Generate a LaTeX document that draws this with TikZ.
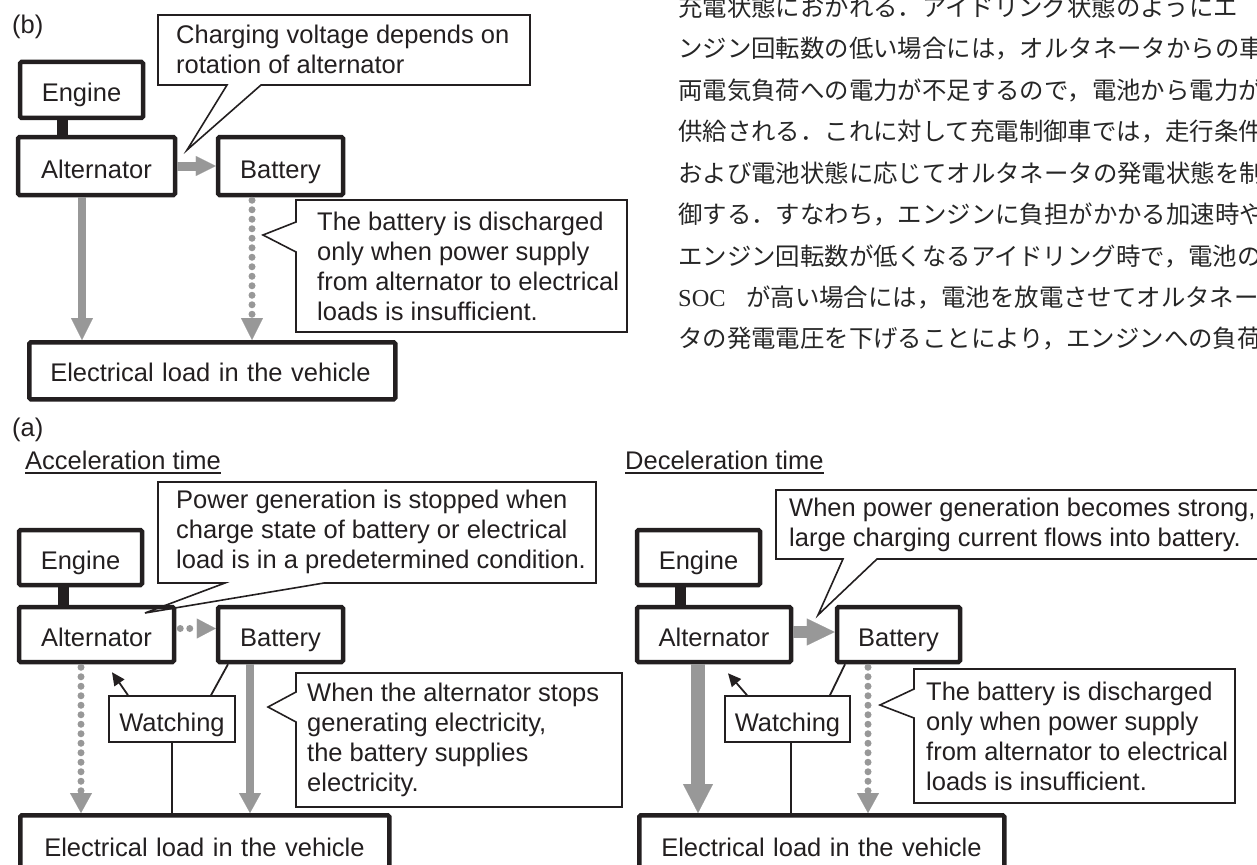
\documentclass[tikz,border=0pt]{standalone}
\usepackage{fontspec}
\setmainfont{Liberation Sans}
\newfontfamily\jpf{Noto Sans CJK JP}
\newfontfamily\serf{Liberation Serif}
\usetikzlibrary{arrows.meta}
\definecolor{arrgray}{RGB}{152,152,152}
\definecolor{txt}{RGB}{35,31,32}
\begin{document}
\begin{tikzpicture}[x=1pt,y=-1pt,
  every node/.style={text=txt},
  box/.style={draw=txt, line width=4.5pt, inner sep=0pt, rounded corners=1.5pt, text height=24pt, text depth=0pt, font=\fontsize{25.5}{30}\selectfont},
  wbox/.style={draw=txt, line width=1.6pt, inner sep=0pt, text height=24pt, text depth=0pt, font=\fontsize{25.5}{30}\selectfont},
  lbox/.style n args={3}{draw=txt, line width=4.5pt, rounded corners=1.5pt, anchor=north west, minimum width=#1, minimum height=#2, inner ysep=0pt, inner xsep=#3, text width=#1-2*#3, align=left, text height=21pt, text depth=0pt, font=\fontsize{25.5}{30}\selectfont},
  ctext/.style={anchor=west, align=left, inner sep=0pt, font=\fontsize{25.5}{30}\selectfont},
  jtext/.style={anchor=west, inner sep=0pt, text=black!85, font=\jpf\fontsize{24.4}{24.4}\selectfont},
  callout/.style={draw=txt, line width=1.6pt, fill=white, line join=miter},
  bar/.style={draw=txt, line width=11pt},
  thinl/.style={draw=txt, line width=1.8pt},
  garr/.style n args={3}{draw=arrgray, line width=#1, -{Triangle[width=#2,length=#3,line width=0.1pt]}},
  gdot/.style n args={3}{draw=arrgray, line width=#1, line cap=round, dash pattern=on 0pt off 9.5pt, -{Triangle[width=#2,length=#3,line width=0.1pt]}},
  uline/.style={draw=txt, line width=1.3pt}
]
\useasboundingbox (0,0) rectangle (1257,864);
\begin{scope}
\clip (0,0) rectangle (1257,864);

% ---------------- Japanese text ----------------
\node[jtext] (j1) at (678,7) {充電状態におかれる．アイドリング状態のようにエ};
\node[jtext] (j2) at (678,48.5) {ンジン回転数の低い場合には，オルタネータからの車};
\node[jtext] (j3) at (678,90) {両電気負荷への電力が不足するので，電池から電力が};
\node[jtext] (j4) at (678,131.5) {供給される．これに対して充電制御車では，走行条件};
\node[jtext] (j5) at (678,173) {および電池状態に応じてオルタネータの発電状態を制};
\node[jtext] (j6) at (678,214.5) {御する．すなわち，エンジンに負担がかかる加速時や};
\node[jtext] (j7) at (678,256) {エンジン回転数が低くなるアイドリング時で，電池の};
\node[jtext] (j8) at (678,297.5) {\makebox[68pt][l]{\serf SOC}が高い場合には，電池を放電させてオルタネータ};
\node[jtext] (j9) at (678,339) {タの発電電圧を下げることにより，エンジンへの負荷};

% ---------------- (b) ----------------
\node[ctext] (lb) at (12,27) {(b)};
\draw[callout] (158,15) -- (530,15) -- (530,85) -- (261,85) -- (187,150) -- (227,85) -- (158,85) -- cycle;
\node[ctext] (cb1) at (176,49) {Charging voltage depends on\\rotation of alternator};
\draw[callout] (296,200) -- (627,200) -- (627,332) -- (296,332) -- (296,252) -- (263,235) -- (296,222) -- cycle;
\node[ctext] (cb2) at (317,266) {The battery is discharged\\only when power supply\\from alternator to electrical\\loads is insufficient.};

\node[box, minimum width=123pt, minimum height=56pt] (engb) at (81.5,90) {Engine};
\node[box, minimum width=157pt, minimum height=58pt] (altb) at (96.5,166) {Alternator};
\node[box, minimum width=125pt, minimum height=58pt] (batb) at (280.5,166) {Battery};
\node[lbox={366pt}{57pt}{21pt}] (loadb) at (27,340) {Electrical load in the vehicle};

\draw[bar] ([xshift=-19pt]engb.south) -- ([xshift=-19pt]engb.south |- altb.north);
\draw[garr={9pt}{20pt}{20pt}] (altb.east) -- (batb.west);
\draw[garr={8pt}{22pt}{22pt}] ([xshift=-14.5pt]altb.south) -- ([xshift=-14.5pt]altb.south |- loadb.north);
\draw[gdot={7pt}{22pt}{22pt}, shorten <=3pt] ([xshift=-28.5pt]batb.south) -- ([xshift=-28.5pt]batb.south |- loadb.north);

% ---------------- (a) ----------------
\node[ctext] (la) at (12,430) {(a)};
\node[ctext] (acc) at (25,460) {Acceleration time};
\draw[uline] ([yshift=-4pt]acc.base west) -- ([yshift=-4pt]acc.base east);
\node[ctext] (dec) at (625,460) {Deceleration time};
\draw[uline] ([yshift=-4pt]dec.base west) -- ([yshift=-4pt]dec.base east);

% left: acceleration
\draw[callout] (158,482) -- (596,482) -- (596,583) -- (324,583) -- (145,613) -- (225,583) -- (158,583) -- cycle;
\node[ctext] (cpa) at (176,532) {Power generation is stopped when\\charge state of battery or electrical\\load is in a predetermined condition.};
\draw[callout] (296,673) -- (622,673) -- (622,807) -- (296,807) -- (296,722) -- (268,707) -- (296,692) -- cycle;
\node[ctext] (cwa) at (307,740) {When the alternator stops\\generating electricity,\\the battery supplies\\electricity.};

\node[box, minimum width=123pt, minimum height=55pt] (enga) at (80.5,557.5) {Engine};
\node[box, minimum width=155pt, minimum height=55pt] (alta) at (96.5,634.5) {Alternator};
\node[box, minimum width=125pt, minimum height=55pt] (bata) at (280.5,634.5) {Battery};
\node[wbox, minimum width=126pt, minimum height=46pt] (wa) at (172,719) {Watching};
\node[lbox={369pt}{62pt}{24pt}] (loada) at (18,813) {Electrical load in the vehicle};

\draw[bar] ([xshift=-17.5pt]enga.south) -- ([xshift=-17.5pt]enga.south |- alta.north);
\draw[gdot={7pt}{20pt}{19pt}, shorten <=4pt] ([yshift=6pt]alta.east) -- ([yshift=6pt]bata.west);
\draw[gdot={7pt}{22pt}{20pt}, shorten <=3pt] ([xshift=-15.5pt]alta.south) -- ([xshift=-15.5pt]alta.south |- loada.north);
\draw[garr={8pt}{22pt}{20pt}] ([xshift=-30.5pt]bata.south) -- ([xshift=-30.5pt]bata.south |- loada.north);
\draw[thinl, -{Triangle[width=12pt,length=13pt]}] ([xshift=-44pt]wa.north) -- ([xshift=15.5pt,yshift=-8pt]alta.south);
\draw[thinl] ([xshift=39pt]wa.north) -- ([xshift=-52.5pt]bata.south);
\draw[thinl] (wa.south) -- (wa.south |- loada.north);

% right: deceleration
\draw[callout] (776,490) -- (1275,490) -- (1275,559) -- (877,559) -- (818,615) -- (843,559) -- (776,559) -- cycle;
\node[ctext] (csr) at (789,525) {When power generation becomes strong,\\large charging current flows into battery.};
\draw[callout] (914,669) -- (1235,669) -- (1235,803) -- (914,803) -- (914,718) -- (880,705) -- (914,689) -- cycle;
\node[ctext] (cdr) at (926,736) {The battery is discharged\\only when power supply\\from alternator to electrical\\loads is insufficient.};

\node[box, minimum width=123pt, minimum height=55pt] (engr) at (698.5,557.5) {Engine};
\node[box, minimum width=154pt, minimum height=55pt] (altr) at (714,634.5) {Alternator};
\node[box, minimum width=123pt, minimum height=55pt] (batr) at (898.5,634.5) {Battery};
\node[wbox, minimum width=125pt, minimum height=46pt] (wr) at (787.5,719) {Watching};
\node[lbox={365pt}{62pt}{22pt}] (loadr) at (637,813) {Electrical load in the vehicle};

\draw[bar] ([xshift=-18pt]engr.south) -- ([xshift=-18pt]engr.south |- altr.north);
\draw[garr={12pt}{27pt}{28pt}] ([yshift=2.5pt]altr.east) -- ([yshift=2.5pt]batr.west);
\draw[garr={14pt}{30pt}{29pt}] ([xshift=-16pt]altr.south) -- ([xshift=-16pt]altr.south |- loadr.north);
\draw[gdot={7pt}{22pt}{20pt}, shorten <=3pt] ([xshift=-30.5pt]batr.south) -- ([xshift=-30.5pt]batr.south |- loadr.north);
\draw[thinl, -{Triangle[width=12pt,length=13pt]}] ([xshift=-40.5pt]wr.north) -- ([xshift=14pt,yshift=-9pt]altr.south);
\draw[thinl] ([xshift=42.5pt]wr.north) -- ([xshift=-53.5pt]batr.south);
\draw[thinl] ([xshift=3.5pt]wr.south) -- ([xshift=3.5pt]wr.south |- loadr.north);
\end{scope}
\end{tikzpicture}
\end{document}
